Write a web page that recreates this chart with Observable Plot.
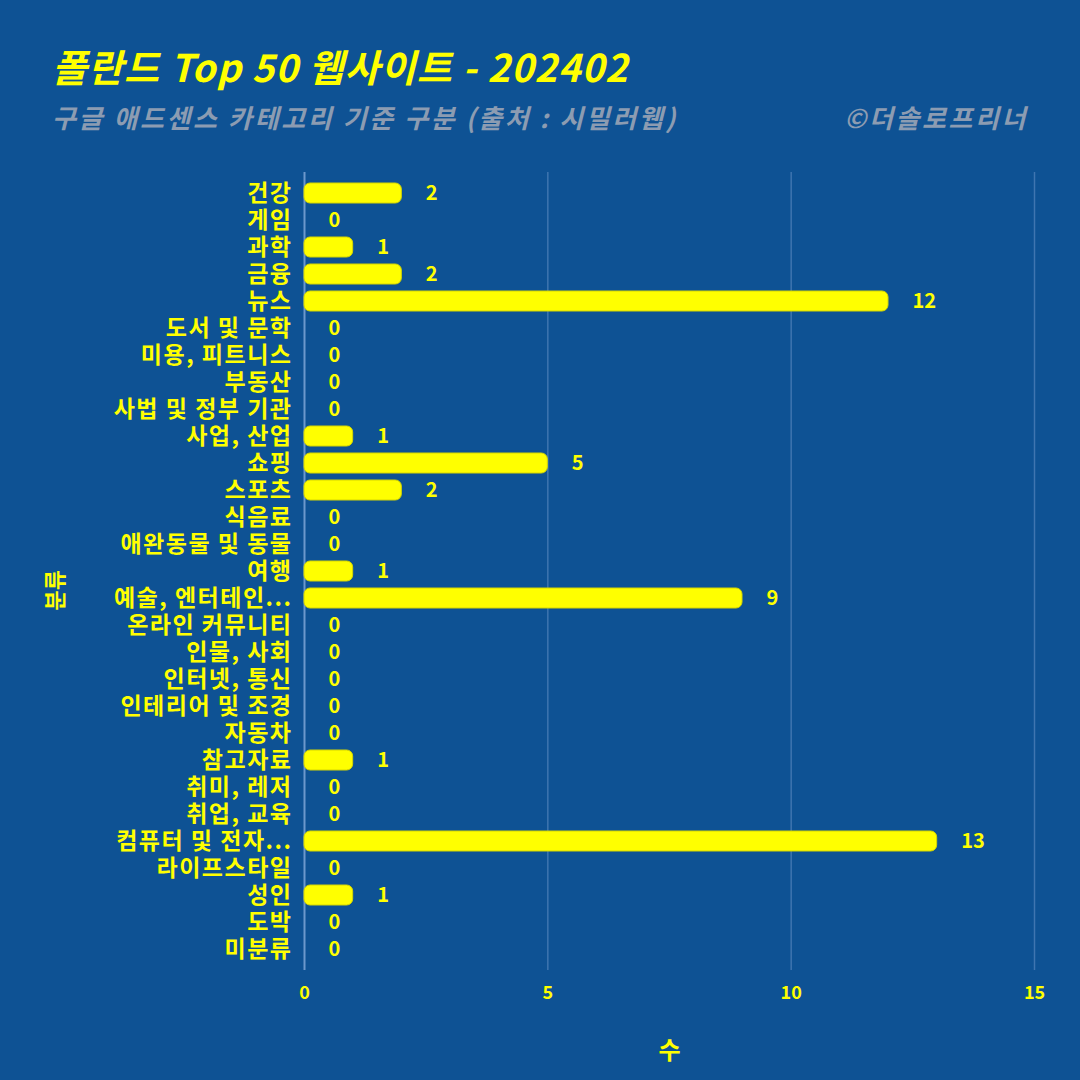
<!DOCTYPE html>
<html><head><meta charset="utf-8">
<script src="https://cdn.jsdelivr.net/npm/d3@7"></script>
<script src="https://cdn.jsdelivr.net/npm/@observablehq/plot@0.6"></script>
<style>
body{margin:0;background:#0e5294;width:1080px;height:1080px;overflow:hidden;font-family:"Noto Sans CJK KR",sans-serif;}
#header{position:relative;height:150px;}
#title{position:absolute;left:52px;top:47px;font-size:38px;letter-spacing:1.1px;line-height:1;font-weight:bold;font-style:italic;color:#ffff00;white-space:nowrap;}
#subtitle{position:absolute;left:52px;top:104px;font-size:26px;letter-spacing:2.6px;line-height:1;font-weight:bold;font-style:italic;color:#8c9cb2;white-space:nowrap;}
#credit{position:absolute;right:52px;top:104px;font-size:26px;letter-spacing:2.6px;line-height:1;font-weight:bold;font-style:italic;color:#8c9cb2;white-space:nowrap;}
#chart{height:930px;}
g[aria-label="y-axis tick label"] text{letter-spacing:1.5px;}
</style></head><body>
<div id="header">
  <div id="title">폴란드 Top 50 웹사이트 - 202402</div>
  <div id="subtitle">구글 애드센스 카테고리 기준 구분 (출처 : 시밀러웹)</div>
  <div id="credit">©더솔로프리너</div>
</div>
<div id="chart"></div>
<script>
const categories = ["건강","게임","과학","금융","뉴스","도서 및 문학","미용, 피트니스","부동산","사법 및 정부 기관","사업, 산업","쇼핑","스포츠","식음료","애완동물 및 동물","여행","예술, 엔터테인...","온라인 커뮤니티","인물, 사회","인터넷, 통신","인테리어 및 조경","자동차","참고자료","취미, 레저","취업, 교육","컴퓨터 및 전자...","라이프스타일","성인","도박","미분류"];
const counts = [2,0,1,2,12,0,0,0,0,1,5,2,0,0,1,9,0,0,0,0,0,1,0,0,13,0,1,0,0];
const xTicks = [0,5,10,15];
const xLabel = "수";
const yLabel = "분류";

const data = categories.map((c, i) => ({category: c, count: counts[i]}));
const yellow = "#ffff00";
const font = "'Noto Sans CJK KR', sans-serif";

const chart = Plot.plot({
  width: 1080,
  height: 930,
  marginTop: 22,
  marginBottom: 110,
  marginLeft: 304,
  marginRight: 46,
  style: {background: "transparent", color: yellow, fontFamily: font},
  x: {domain: [0, 15]},
  y: {domain: categories, paddingInner: 0.25, paddingOuter: 0.325},
  marks: [
    Plot.gridX(xTicks.filter(d => d > 0), {stroke: "#3f75b0", strokeOpacity: 1, strokeWidth: 1.5}),
    Plot.ruleX([0], {stroke: "#6c98cc", strokeWidth: 2}),
    Plot.barX(data, {x: "count", y: "category", fill: yellow, stroke: "#d6d600", strokeWidth: 1, rx: 6}),
    Plot.text(data, {x: "count", y: "category", text: d => String(d.count), textAnchor: "start", dx: 24, fill: yellow, fontWeight: "bold", fontSize: 20}),
    Plot.axisX(xTicks, {tickSize: 0, tickPadding: 16, fontSize: 18, fontWeight: "bold", fill: yellow, label: null}),
    Plot.axisY({tickSize: 0, tickPadding: 12, fontSize: 23, fontWeight: "bold", fill: yellow, label: null}),
    Plot.text([xLabel], {text: d => d, frameAnchor: "bottom", dy: 88, fontSize: 24, fontWeight: "bold", fill: yellow}),
    Plot.text([yLabel], {text: d => d, frameAnchor: "left", dx: -249, dy: 39, rotate: -90, fontSize: 22, fontWeight: "bold", fill: yellow})
  ]
});
document.getElementById("chart").appendChild(chart);
</script>
</body></html>
